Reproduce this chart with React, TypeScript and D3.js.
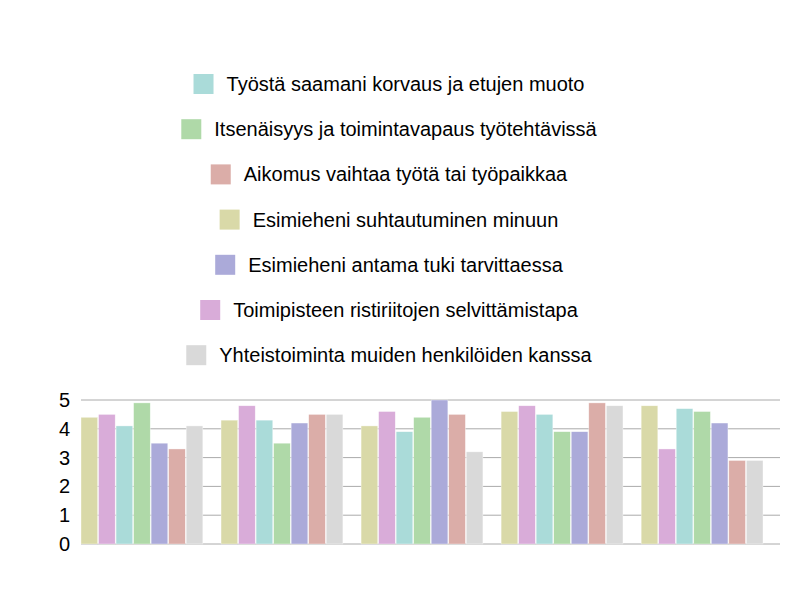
import { useEffect, useRef } from 'react';
import * as d3 from 'd3';

const groups = ['g1', 'g2', 'g3', 'g4', 'g5'];
const seriesNames = [
  'Esimieheni suhtautuminen minuun',
  'Toimipisteen ristiriitojen selvittämistapa',
  'Työstä saamani korvaus ja etujen muoto',
  'Itsenäisyys ja toimintavapaus työtehtävissä',
  'Esimieheni antama tuki tarvittaessa',
  'Aikomus vaihtaa työtä tai työpaikkaa',
  'Yhteistoiminta muiden henkilöiden kanssa',
];
const seriesColors = ['#d9d9a8', '#d9acd9', '#aadbd9', '#afd9a8', '#abaad9', '#dbada8', '#d9d9d9'];
const values = [
  [4.4, 4.5, 4.1, 4.9, 3.5, 3.3, 4.1],
  [4.3, 4.8, 4.3, 3.5, 4.2, 4.5, 4.5],
  [4.1, 4.6, 3.9, 4.4, 5.0, 4.5, 3.2],
  [4.6, 4.8, 4.5, 3.9, 3.9, 4.9, 4.8],
  [4.8, 3.3, 4.7, 4.6, 4.2, 2.9, 2.9],
];
const legendOrder = [2, 3, 5, 0, 4, 1, 6];
const yTicks = [0, 1, 2, 3, 4, 5];

const App = () => {
  const ref = useRef<SVGSVGElement | null>(null);

  useEffect(() => {
    const svg = d3.select(ref.current);
    svg.selectAll('*').remove();
    const font = '"Liberation Sans", Arial, sans-serif';

    const x0 = d3.scaleBand().domain(groups).range([81, 763]).paddingInner(0.13).paddingOuter(0);
    const x1 = d3.scaleBand().domain(seriesNames).range([0, x0.bandwidth()]).paddingInner(0.05);
    const y = d3.scaleLinear().domain([0, 5]).range([544, 400]);

    svg.append('g').selectAll('line').data(yTicks).join('line')
      .attr('x1', 81).attr('x2', 780)
      .attr('y1', d => y(d)).attr('y2', d => y(d))
      .attr('stroke', '#aaa').attr('stroke-width', 1);

    svg.append('g').selectAll('text').data(yTicks).join('text')
      .attr('x', 70).attr('y', d => y(d) + 7)
      .attr('text-anchor', 'end')
      .attr('font-family', font).attr('font-size', 20)
      .text(d => d);

    const g = svg.append('g').selectAll('g').data(values).join('g')
      .attr('transform', (_, i) => `translate(${x0(groups[i])},0)`);
    g.selectAll('rect').data(d => d).join('rect')
      .attr('x', (_, i) => x1(seriesNames[i])!)
      .attr('width', x1.bandwidth())
      .attr('y', d => y(d))
      .attr('height', d => y(0) - y(d))
      .attr('fill', (_, i) => seriesColors[i])
      .attr('stroke', 'rgba(255,255,255,0.6)').attr('stroke-width', 0.6);

    const legend = svg.append('g');
    legendOrder.forEach((s, row) => {
      const item = legend.append('g');
      const cy = 84 + row * 45.2;
      const t = item.append('text')
        .attr('font-family', font).attr('font-size', 20)
        .attr('y', cy + 7).text(seriesNames[s]);
      const w = (t.node() as SVGTextElement).getComputedTextLength();
      const total = 20 + 13 + w;
      const left = 389 - total / 2;
      t.attr('x', left + 33);
      item.append('rect')
        .attr('x', left).attr('y', cy - 10).attr('width', 20).attr('height', 20)
        .attr('fill', seriesColors[s]);
    });
  }, []);

  return <svg ref={ref} width={800} height={600} style={{ position: 'absolute', left: 0, top: 0 }}></svg>;
};

export default App;
